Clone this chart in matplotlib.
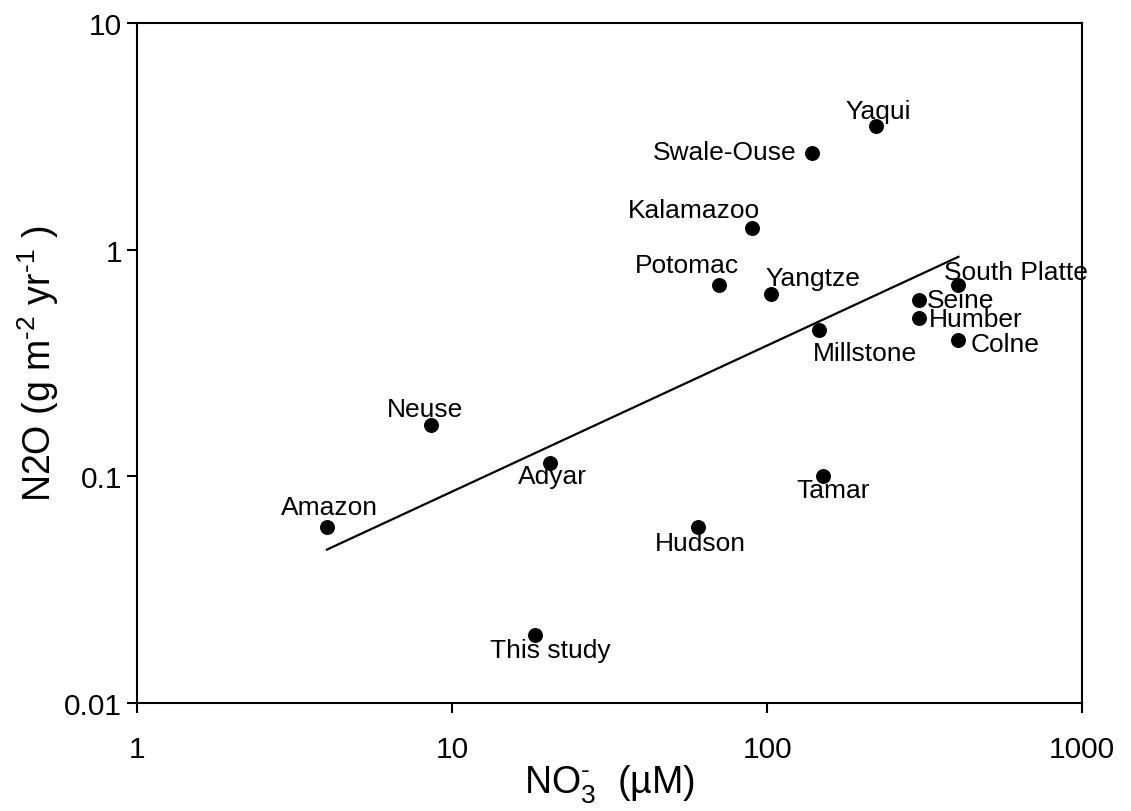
import matplotlib
matplotlib.use("Agg")
import matplotlib.pyplot as plt

plt.rcParams["font.family"] = ["Liberation Sans", "DejaVu Sans"]
plt.rcParams["mathtext.fontset"] = "custom"
plt.rcParams["mathtext.rm"] = "Liberation Sans"
plt.rcParams["mathtext.it"] = "Liberation Sans"
plt.rcParams["mathtext.default"] = "regular"

# rivers, NO3- (uM) and N2O flux (g m-2 yr-1)
rivers = ["Amazon", "Neuse", "Adyar", "This study", "Hudson", "Tamar", "Potomac",
          "Kalamazoo", "Yangtze", "Swale-Ouse", "Yaqui", "Millstone",
          "South Platte", "Seine", "Humber", "Colne"]
no3 = [4.0, 8.55, 20.4, 18.3, 60.2, 151, 70.5, 89.5, 103, 139, 221, 146,
       403, 303, 303, 403]
n2o = [0.060, 0.169, 0.115, 0.020, 0.060, 0.10, 0.70, 1.25, 0.636, 2.67, 3.52,
       0.444, 0.70, 0.60, 0.50, 0.40]

# regression line end points
fit_x = [4.0, 405]
fit_y = [0.0475, 0.93]

# label offsets in points and alignment
label_pos = {
    "Amazon": (2, 14, "center"),
    "Neuse": (-4, 11, "center"),
    "Adyar": (2, -10, "center"),
    "This study": (11, -11, "center"),
    "Hudson": (2, -12, "center"),
    "Tamar": (7, -10, "center"),
    "Potomac": (-23, 14, "center"),
    "Kalamazoo": (-42, 13, "center"),
    "Yangtze": (30, 12, "center"),
    "Swale-Ouse": (-11, 1, "right"),
    "Yaqui": (2, 11, "center"),
    "Millstone": (33, -17, "center"),
    "South Platte": (42, 9, "center"),
    "Seine": (6, 0, "left"),
    "Humber": (7, -1, "left"),
    "Colne": (9, -3, "left"),
}

fig = plt.figure(figsize=(11.31, 8.12), dpi=100)
ax = fig.add_axes([0.1214, 0.133, 0.8353, 0.8374])

ax.plot(fit_x, fit_y, color="black", lw=1.6)
ax.scatter(no3, n2o, s=95, color="black", zorder=3)

for name, x, y in zip(rivers, no3, n2o):
    dx, dy, ha = label_pos[name]
    ax.annotate(name, (x, y), xytext=(dx, dy), textcoords="offset points",
                ha=ha, va="center", fontsize=19, annotation_clip=False,
                clip_on=False)

ax.set_xscale("log")
ax.set_yscale("log")
ax.set_xlim(1, 1000)
ax.set_ylim(0.01, 10)
ax.set_xticks([1, 10, 100, 1000])
ax.set_xticklabels(["1", "10", "100", "1000"])
ax.set_yticks([0.01, 0.1, 1, 10])
ax.set_yticklabels(["0.01", "0.1", "1", "10"])
ax.minorticks_off()

for s in ax.spines.values():
    s.set_linewidth(1.5)
ax.tick_params(axis="both", direction="out", length=7, width=1.5, labelsize=21.5)
ax.tick_params(axis="x", pad=16)
ax.tick_params(axis="y", pad=4)

ax.set_xlabel("NO$_3^{\u2010}$  (µM)", fontsize=27, labelpad=0)
ax.set_ylabel("N2O (g m$^{\u20102}$ yr$^{\u20101}$ )", fontsize=27, labelpad=2)

fig.savefig("out.png", dpi=100)
